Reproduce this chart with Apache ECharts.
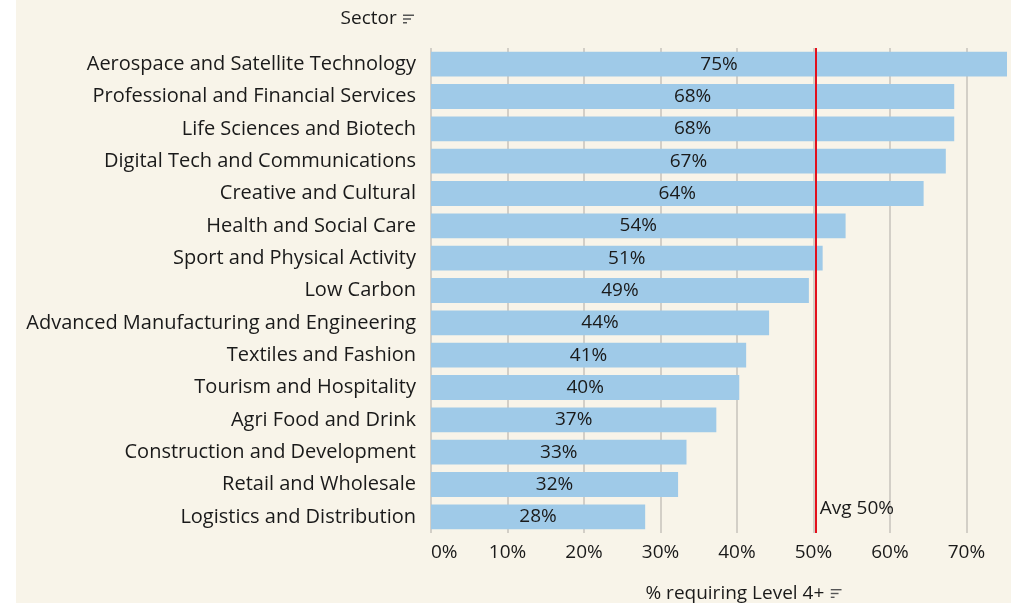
<!DOCTYPE html>
<html>
<head>
<meta charset="utf-8">
<script src="https://cdn.jsdelivr.net/npm/echarts@6/dist/echarts.min.js"></script>
<style>
  html, body { margin: 0; padding: 0; background: #fff; }
  #chart { position: absolute; left: 16px; top: 0; width: 995px; height: 603px; background: #F8F4E9; }
</style>
</head>
<body>
<div id="chart"></div>
<script>
'use strict';

const sectors = [
  'Aerospace and Satellite Technology',
  'Professional and Financial Services',
  'Life Sciences and Biotech',
  'Digital Tech and Communications',
  'Creative and Cultural',
  'Health and Social Care',
  'Sport and Physical Activity',
  'Low Carbon',
  'Advanced Manufacturing and Engineering',
  'Textiles and Fashion',
  'Tourism and Hospitality',
  'Agri Food and Drink',
  'Construction and Development',
  'Retail and Wholesale',
  'Logistics and Distribution'
];
const level4Share = [75.3, 68.4, 68.4, 67.3, 64.4, 54.2, 51.2, 49.4, 44.2, 41.2, 40.3, 37.3, 33.4, 32.3, 28.0];
const averageShare = 50.3;
const averageLabel = 'Avg 50%';
const xTicks = [0, 10, 20, 30, 40, 50, 60, 70];

const textColor = '#1a1a1a';
const font = '"Open Sans", "Noto Sans", sans-serif';

// little sort glyph next to the axis titles
const sortIcon = 'data:image/svg+xml;utf8,' + encodeURIComponent(
  '<svg xmlns="http://www.w3.org/2000/svg" width="12" height="10">' +
  '<rect x="0" y="0.5" width="11" height="1.4" fill="#555"/>' +
  '<rect x="0" y="4.3" width="8" height="1.4" fill="#555"/>' +
  '<rect x="0" y="8.1" width="4" height="1.4" fill="#555"/>' +
  '</svg>');
const nameRich = {
  t: {fontFamily: font, fontSize: 19, color: textColor},
  i: {width: 12, height: 10, backgroundColor: {image: sortIcon}}
};

const chart = echarts.init(document.getElementById('chart'));

chart.setOption({
  animation: false,
  backgroundColor: 'transparent',
  textStyle: {fontFamily: font},
  grid: {left: 415, right: 4, top: 48, bottom: 70, outerBoundsMode: 'none'},
  xAxis: {
    type: 'value',
    min: xTicks[0],
    max: 'dataMax',
    interval: xTicks[1] - xTicks[0],
    name: '{t|% requiring Level 4+}  {i|}',
    nameLocation: 'middle',
    nameGap: 51,
    nameTextStyle: {rich: nameRich, padding: [0, 0, 0, 50]},
    axisLine: {show: false},
    axisTick: {show: false},
    axisLabel: {
      formatter: '{value}%',
      color: textColor,
      fontSize: 19,
      fontFamily: font,
      margin: 10,
      showMaxLabel: false,
      alignMinLabel: 'left'
    },
    splitLine: {
      show: true,
      showMaxLine: false,
      lineStyle: {color: '#D3CFC7', width: 2}
    }
  },
  yAxis: {
    type: 'category',
    data: sectors,
    inverse: true,
    name: '{t|Sector}  {i|}',
    nameLocation: 'start',
    nameGap: 29,
    nameTextStyle: {rich: nameRich, align: 'right', verticalAlign: 'middle', padding: [0, 16, 0, 0]},
    axisLine: {show: false},
    axisTick: {show: false},
    axisLabel: {color: textColor, fontSize: 20, fontFamily: font, margin: 15}
  },
  series: [
    {
      type: 'bar',
      data: level4Share,
      barCategoryGap: '23%',
      itemStyle: {color: '#9FCAE8'},
      label: {
        show: true,
        position: 'inside',
        color: textColor,
        fontSize: 19,
        fontFamily: font,
        formatter: (p) => Math.round(p.value) + '%'
      },
      markLine: {
        silent: true,
        symbol: 'none',
        label: {show: false},
        lineStyle: {color: '#E3101C', width: 2, type: 'solid'},
        data: [{xAxis: averageShare}]
      }
    },
    {
      type: 'scatter',
      data: [[averageShare, sectors[sectors.length - 1]]],
      symbolSize: 0,
      silent: true,
      itemStyle: {opacity: 1},
      label: {
        show: true,
        position: 'right',
        distance: 4,
        offset: [0, -8],
        formatter: averageLabel,
        color: textColor,
        fontSize: 19,
        fontFamily: font
      }
    }
  ]
});
</script>
</body>
</html>
